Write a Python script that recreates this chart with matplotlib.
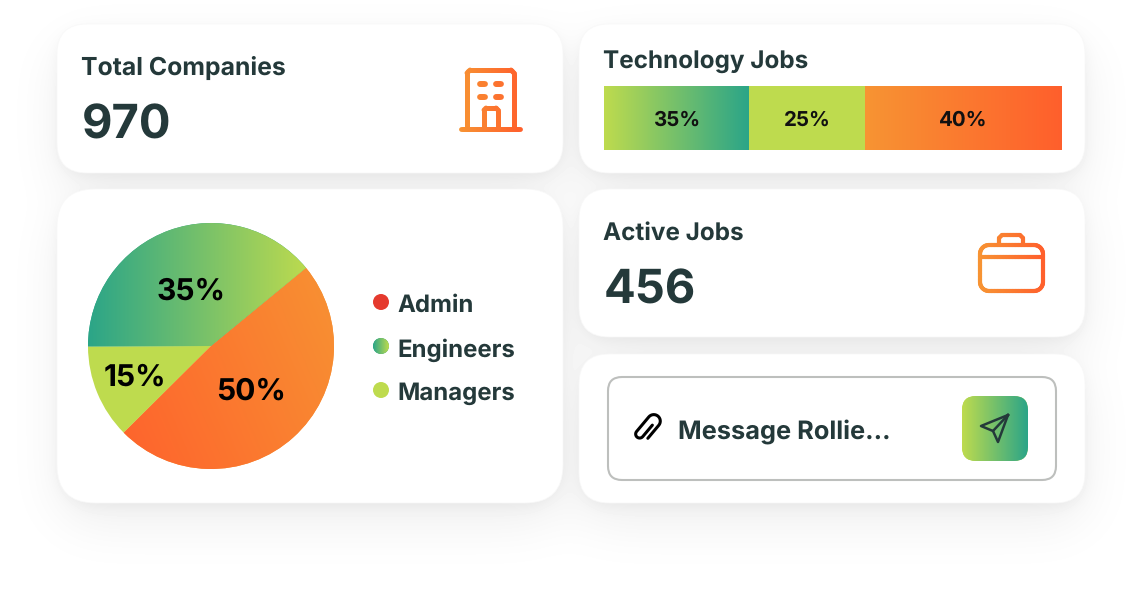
import numpy as np
import matplotlib
matplotlib.use("Agg")
import matplotlib.pyplot as plt
from matplotlib.patches import FancyBboxPatch, Circle
from matplotlib.collections import LineCollection
from matplotlib.colors import LinearSegmentedColormap

plt.rcParams["text.hinting"] = "no_hinting"

W, H = 1142, 592
FONT = "Inter"
DARK = "#24393A"
LIME = "#BEDB4E"
TEAL = "#2BA588"
ORANGE_L = "#F79433"
ORANGE_R = "#FF5F2C"
RED = "#E53A2E"

# data
pie_shares = [48.5, 12.4, 39.1]
pie_labels = ["50%", "15%", "35%"]
legend_names = ["Admin", "Engineers", "Managers"]
bar_shares = [31.7, 25.4, 42.9]
bar_labels = ["35%", "25%", "40%"]
total_companies = "970"
active_jobs = "456"

green_cm = LinearSegmentedColormap.from_list("g", [LIME, TEAL])
orange_cm = LinearSegmentedColormap.from_list("o", [ORANGE_L, ORANGE_R])

fig = plt.figure(figsize=(W / 100, H / 100), dpi=100, facecolor="white")
ax = fig.add_axes([0, 0, 1, 1])
ax.axis("off")

cards = [(57, 24, 563, 173, 30), (579, 24, 1085, 173, 30), (57, 189, 563, 503, 38),
         (579, 189, 1085, 337, 30), (579, 354, 1085, 503, 30)]


def blur(a, sigma):
    r = int(sigma * 3)
    k = np.exp(-np.arange(-r, r + 1) ** 2 / (2 * sigma ** 2))
    k = k / k.sum()
    a = np.apply_along_axis(lambda m: np.convolve(m, k, mode="same"), 0, a)
    return np.apply_along_axis(lambda m: np.convolve(m, k, mode="same"), 1, a)


# soft shadow under the cards
yy, xx = np.mgrid[0:H, 0:W]
dark = np.zeros((H, W))
for off, sigma, strength in [(20, 26, 0.07), (4, 6, 0.04)]:
    m = np.zeros((H, W))
    for x0, y0, x1, y1, r in cards:
        cx, cy = (x0 + x1) / 2, (y0 + y1) / 2 + off
        dx = np.abs(xx - cx) - ((x1 - x0) / 2 - r)
        dy = np.abs(yy - cy) - ((y1 - y0) / 2 - r)
        d = np.hypot(np.maximum(dx, 0), np.maximum(dy, 0)) + np.minimum(np.maximum(dx, dy), 0) - r
        m = np.maximum(m, (d < 0) * 1.0)
    dark += blur(m, sigma) * strength
ax.imshow(1 - dark, cmap="gray", vmin=0, vmax=1, extent=(0, W, H, 0), aspect="auto", zorder=0)
ax.set_xlim(0, W)
ax.set_ylim(H, 0)


def rbox(x0, y0, x1, y1, r, **kw):
    p = FancyBboxPatch((x0 + r, y0 + r), x1 - x0 - 2 * r, y1 - y0 - 2 * r,
                       boxstyle="round,pad=%f,rounding_size=%f" % (r, r), **kw)
    ax.add_patch(p)
    return p


def grad_fill(a, patch, extent, cmap, direction="x"):
    g = np.linspace(0, 1, 256)
    if direction == "x":
        g = g.reshape(1, -1)
    else:
        # slanted, bottom-left to right
        u, v = np.meshgrid(g, g)
        g = 0.7 * u + 0.3 * v
    xl, yl = a.get_xlim(), a.get_ylim()
    im = a.imshow(g, cmap=cmap, extent=extent, aspect="auto", origin="lower", zorder=3, vmin=0, vmax=1)
    im.set_clip_path(patch)
    a.set_xlim(xl)
    a.set_ylim(yl)


def rounded(x0, y0, x1, y1, r):
    t = np.linspace(0, np.pi / 2, 12)
    pts = []
    for cx, cy, a0 in [(x1 - r, y0 + r, -np.pi / 2), (x1 - r, y1 - r, 0), (x0 + r, y1 - r, np.pi / 2), (x0 + r, y0 + r, np.pi)]:
        pts += list(zip(cx + r * np.cos(a0 + t), cy + r * np.sin(a0 + t)))
    pts.append(pts[0])
    return np.array(pts)


def grad_stroke(pts, lw, xr, cmap=orange_cm):
    pts = np.asarray(pts, float)
    fine = []
    for p, q in zip(pts[:-1], pts[1:]):
        n = max(int(np.hypot(*(q - p)) / 1.5), 1)
        fine += [p + (q - p) * i / n for i in range(n)]
    fine.append(pts[-1])
    fine = np.array(fine)
    segs = np.stack([fine[:-1], fine[1:]], axis=1)
    cols = cmap((segs[:, :, 0].mean(axis=1) - xr[0]) / (xr[1] - xr[0]))
    ax.add_collection(LineCollection(segs, colors=cols, linewidths=lw, capstyle="round", zorder=4))


def label(x, y, s, px, color=DARK, ha="left", weight="bold"):
    # figure level text so it stays above the pie axes
    fig.text(x, y, s, transform=ax.transData, fontsize=px * 0.72, color=color, ha=ha, va="center",
             family=FONT, weight=weight, zorder=6)


for x0, y0, x1, y1, r in cards:
    rbox(x0, y0, x1, y1, r, fc="white", ec="#F8F8F8", lw=0.5, zorder=1)

# top left card
label(81, 68, "Total Companies", 24.8)
label(82, 126, total_companies, 47)
xr = (460, 522)
grad_stroke([(467, 128), (467, 73), (470, 70), (511, 70), (514, 73), (514, 128)], 3.5, xr)
grad_stroke([(461, 128.5), (520, 128.5)], 3.5, xr)
grad_stroke([(484, 128), (484, 110), (486, 108), (496, 108), (498, 110), (498, 128)], 3.5, xr)
for wx in (482, 498):
    for wy in (84, 97):
        grad_stroke([(wx - 2.5, wy), (wx + 2.5, wy)], 4.2, xr)

# stacked bar card
label(603, 62, "Technology Jobs", 24.3)
bar_ax = fig.add_axes([604 / W, 1 - 150 / H, 457 / W, 64 / H])
bar_ax.set_xlim(0, 100)
bar_ax.set_ylim(0, 1)
bar_ax.axis("off")
bars = bar_ax.barh([0.5] * 3, bar_shares, left=np.cumsum([0] + bar_shares[:-1]), height=1, color=LIME, lw=0)
for b, cm, lab in zip(bars, [green_cm, None, orange_cm], bar_labels):
    ext = (b.get_x(), b.get_x() + b.get_width(), 0, 1)
    if cm is not None:
        grad_fill(bar_ax, b, ext, cm)
    bar_ax.text(b.get_x() + b.get_width() / 2, 0.47, lab, ha="center", va="center", fontsize=20.5 * 0.72,
                family=FONT, weight="bold", color="#111111", zorder=6)

# pie card
pie_ax = fig.add_axes([88 / W, 1 - 469 / H, 246 / W, 246 / H])
wedges, _ = pie_ax.pie(pie_shares, startangle=39.4, counterclock=False, radius=1, colors=[ORANGE_L, LIME, TEAL],
                       wedgeprops={"lw": 0})
pie_ax.set_xlim(-1, 1)
pie_ax.set_ylim(-1, 1)
grad_fill(pie_ax, wedges[0], (-0.9, 1, -1, 0.9), LinearSegmentedColormap.from_list("o2", [ORANGE_R, ORANGE_L]), "d")
grad_fill(pie_ax, wedges[2], (-1, 0.8, -0.1, 1), LinearSegmentedColormap.from_list("g2", [TEAL, LIME]), "x")
pie_ax.axis("off")
for (x, y), s in zip([(251, 392), (135, 378), (191, 292)], pie_labels):
    label(x, y, s, 30, color="black", ha="center")

for (y, name, col) in zip((302, 346, 390), legend_names, (RED, None, LIME)):
    dot = Circle((381, y), 8, fc=col if col else TEAL, lw=0, zorder=3)
    ax.add_patch(dot)
    if col is None:
        grad_fill(ax, dot, (373, 389, y + 8, y - 8), LinearSegmentedColormap.from_list("g3", [TEAL, LIME]))
    label(397, y + 4, name, 24)

# active jobs card
label(603, 233, "Active Jobs", 24.3)
label(604, 291, active_jobs, 47)
xr = (979, 1044)
grad_stroke(rounded(980, 245, 1043, 291, 9), 3, xr)
grad_stroke([(980, 257), (1043, 257)], 3, xr)
grad_stroke([(999, 245), (999, 238), (1002, 235), (1020, 235), (1023, 238), (1023, 245)], 3, xr)

# message card
rbox(608, 377, 1056, 480, 14, fc="white", ec="#BDBFBD", lw=1.5, zorder=2)
label(678, 432, "Message Rollie...", 25.4)
btn = rbox(962, 396, 1028, 461, 14, fc=LIME, lw=0, zorder=3)
grad_fill(ax, btn, (962, 1028, 461, 396), green_cm)
ax.plot([1008, 981, 993, 998, 1008], [415, 426, 431, 442, 415], color=DARK, lw=1.8, solid_joinstyle="round", zorder=5)
ax.plot([993, 1008], [431, 415], color=DARK, lw=1.8, solid_capstyle="round", zorder=5)

# paper clip, drawn along its own axis and turned
t1 = np.linspace(0, np.pi, 16)
u = np.r_[-8, 9, 9 + 6.5 * np.sin(t1), -10 - 4 * np.sin(t1), 5]
v = np.r_[6.5, 6.5, 6.5 * np.cos(t1), -6.5 + 4 * (1 - np.cos(t1)), 1.5]
ca, sa = np.cos(np.radians(50)), np.sin(np.radians(50))
ax.plot(648 + u * ca + v * sa, 428 - u * sa + v * ca, color="black", lw=2.2, solid_capstyle="round", zorder=5)

fig.savefig("out.png", dpi=100, facecolor="white")
